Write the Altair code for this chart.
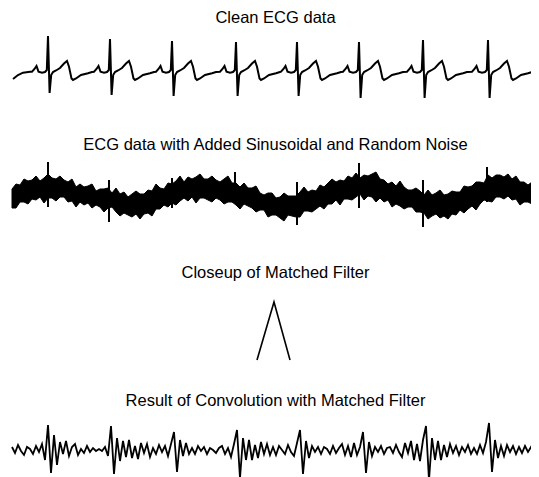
import altair as alt
import pandas as pd

# ---------------- titles ----------------
titles = [
    "Clean ECG data",
    "ECG data with Added Sinusoidal and Random Noise",
    "Closeup of Matched Filter",
    "Result of Convolution with Matched Filter",
]

# ---------------- clean ECG ----------------
beat_x = [48, 110, 172, 236, 297, 359, 423, 488]          # R-peak positions
r_amp = [38, 35, 33, 32, 32, 32, 34, 34]                   # R-wave heights
s_amp = [-19, -21, -22, -22, -22, -24, -24, -24]           # S-wave depths
# one heartbeat: offset from R peak and amplitude ("R"/"S" = per-beat values)
tmpl_dx = [-16, -13.5, -11.5, -9.5, -6, -3, -1.2, 0, 1.6, 3.2, 5, 8, 12, 16, 19, 21, 23.5, 25, 28, 33, 40, 44]
tmpl_amp = [2.3, 5, 8, 2.3, 1.3, 2, 4, "R", "S", -1, 2, 3.5, 6, 10.5, 13, 7.3, -4.5, -6, -4.5, -1, 0.7, 2]
lead_x = [13, 18, 23, 30]
lead_amp = [-5, -1, 1.3, 2.3]
tail_x = [539]
tail_amp = [-2]

# ---------------- noisy ECG (upper / lower edge of the noise band, every 4 units from x=12) ----------------
noisy_top = [8, 13, 12, 18, 16, 17, 21, 16, 19, 23,
             19, 18, 21, 17, 15, 18, 10, 13, 10, 11,
             13, 6, 8, 8, 9, 4, 9, 3, 5, 0,
             3, 6, 3, 3, 7, 6, 13, 9, 8, 14,
             13, 16, 21, 15, 20, 18, 20, 23, 18, 18,
             21, 17, 15, 18, 21, 14, 14, 10, 14, 9,
             9, 11, 4, 2, 4, 4, -1, 0, 4, 1,
             1, 1, 5, 10, 5, 7, 6, 12, 10, 14,
             18, 15, 17, 16, 21, 19, 24, 19, 22, 21,
             23, 25, 18, 17, 13, 15, 11, 16, 10, 7,
             7, 9, 6, 2, 7, 2, 4, 7, 2, 3,
             6, 5, 5, 11, 10, 11, 15, 15, 14, 22,
             19, 22, 22, 20, 23, 18, 21, 15, 15, 12,
             15, 13, 16]
noisy_bottom = [-11, -11, -5, -5, -7, -2, -3, 0, -6, -1,
                -1, -4, 0, 0, -5, -4, -10, -5, -8, -6,
                -11, -8, -10, -15, -11, -10, -15, -19, -16, -18,
                -20, -17, -22, -17, -16, -19, -12, -12, -8, -10,
                -6, -8, -4, -1, -4, 0, -6, -1, -1, -3,
                -5, -1, -3, -7, -5, -5, -8, -12, -7, -9,
                -11, -15, -13, -13, -20, -18, -18, -21, -24, -18,
                -19, -20, -20, -14, -14, -15, -12, -9, -12, -7,
                -7, -3, -8, -2, -2, -3, 0, 3, -3, 1,
                0, -5, -1, -5, -3, -10, -7, -9, -12, -10,
                -10, -15, -15, -16, -22, -19, -17, -21, -19, -22,
                -17, -18, -13, -16, -12, -9, -13, -7, -3, -4,
                -5, 0, 0, -2, 1, -3, -2, -8, -5, -5,
                -7, -4, -8]
spike_x = [48, 109, 172, 235, 297, 359, 423, 487]
spike_top = [35, 17, 19, 25, 15, 34, 17, 30]
spike_bottom = [-10, -25, -11, -6, -28, -11, -30, -5]

# ---------------- matched filter ----------------
filt_x = [257, 274, 290]
filt_amp = [0, 58, 0]

# ---------------- convolution result (every 3 units from x=12) ----------------
result_amp = [3, -3, 5, -1, -5, 3, 1, -4, 4, -2,
              6, -10, 25, -23, 15, -15, 8, -4, 9, -6,
              3, 6, -5, 1, -3, 4, -2, 2, -1, 1,
              -1, 3, -6, 24, -24, 12, -11, 9, -7, 10,
              -8, 4, -9, 7, -3, 6, -7, 2, -4, 5,
              -2, 4, -6, 6, 18, -22, 10, -6, 7, -4,
              2, -4, 4, -1, 3, -4, 2, 0, -3, 2,
              4, -4, 2, -7, 6, 20, -28, 12, -10, 10,
              -10, 5, -8, 8, -4, 6, -5, 3, -5, 4,
              0, -4, 5, -2, -6, 7, 20, -24, 9, -8,
              4, -2, 3, -4, 3, 1, -4, 4, -3, 2,
              6, -5, 4, -7, 7, -5, 3, 18, -23, 8,
              -6, 3, -2, 4, -4, 2, 3, -3, 5, -2,
              -7, 7, -3, 9, -10, 6, -11, 10, 24, -30,
              12, -10, 9, -10, 5, -7, 6, -3, 4, -5,
              3, -2, 5, -4, 2, -4, 5, -3, 8, 27,
              -22, 10, -8, 4, -6, 5, -2, 4, -4, 3,
              -3, 4, -2, 3, -4, 2]

# ---------------- build tables ----------------
rows = list(zip(lead_x, lead_amp))
for bx, ra, sa in zip(beat_x, r_amp, s_amp):
    for dx, a in zip(tmpl_dx, tmpl_amp):
        if a == "R":
            a = ra
        elif a == "S":
            a = sa
        rows.append((bx + dx, a))
rows += list(zip(tail_x, tail_amp))
clean_df = pd.DataFrame(rows, columns=["x", "amp"])
clean_df["order"] = range(len(clean_df))

noisy_df = pd.DataFrame({
    "x": [min(12 + 4 * i, 539) for i in range(len(noisy_top))],
    "top": noisy_top,
    "bottom": noisy_bottom,
})
spike_df = pd.DataFrame({"x": spike_x, "top": spike_top, "bottom": spike_bottom})
filt_df = pd.DataFrame({"x": filt_x, "amp": filt_amp})
result_df = pd.DataFrame({"x": [12 + 3 * i for i in range(len(result_amp))], "amp": result_amp})

W = 523
xs = alt.Scale(domain=[8, 531], nice=False, zero=False)


def ysc(lo, hi):
    return alt.Scale(domain=[lo, hi], nice=False, zero=False)


p1 = alt.Chart(clean_df).mark_line(color="black", strokeWidth=2, clip=True).encode(
    x=alt.X("x:Q", scale=xs, axis=None),
    y=alt.Y("amp:Q", scale=ysc(-36, 44), axis=None),
    order="order:Q",
).properties(width=W, height=80, title=titles[0])

band = alt.Chart(noisy_df).mark_area(
    color="black", stroke="black", strokeWidth=1, clip=True
).encode(
    x=alt.X("x:Q", scale=xs, axis=None),
    y=alt.Y("top:Q", scale=ysc(-41, 40), axis=None),
    y2="bottom:Q",
)
spikes = alt.Chart(spike_df).mark_rule(color="black", strokeWidth=2, clip=True).encode(
    x=alt.X("x:Q", scale=xs, axis=None),
    y=alt.Y("top:Q", scale=ysc(-41, 40), axis=None),
    y2="bottom:Q",
)
p2 = alt.layer(band, spikes).properties(width=W, height=81, title=titles[1])

p3 = alt.Chart(filt_df).mark_line(color="black", strokeWidth=1.6, clip=True).encode(
    x=alt.X("x:Q", scale=xs, axis=None),
    y=alt.Y("amp:Q", scale=ysc(-6, 75), axis=None),
).properties(width=W, height=81, title=titles[2])

p4 = alt.Chart(result_df).mark_line(color="black", strokeWidth=1.8, clip=True).encode(
    x=alt.X("x:Q", scale=xs, axis=None),
    y=alt.Y("amp:Q", scale=ysc(-28, 37), axis=None),
).properties(width=W, height=65, title=titles[3])

chart = alt.vconcat(p1, p2, p3, p4, spacing=27).properties(
    padding={"left": 0, "top": 2, "right": 0, "bottom": 0},
    background="white",
).configure_view(strokeWidth=0).configure_title(
    font="Liberation Sans", fontSize=16.5, fontWeight="normal", color="black",
    baseline="bottom", offset=3.5, anchor="middle", dx=6,
)

chart.save("out.html", embed_options={"renderer": "svg", "actions": False})
